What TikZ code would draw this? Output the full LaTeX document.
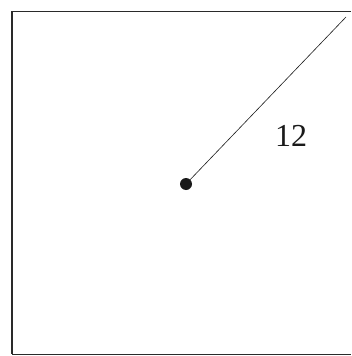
\documentclass[tikz,border=0pt]{standalone}
\usepackage{fontspec}
\setmainfont{Liberation Serif}
\usepackage{tikz}
\usepackage{xcolor}
\definecolor{Ink}{HTML}{1A1A1A}
\definecolor{Frame}{HTML}{2A2A2A}
\tikzset{
  frame/.style={draw=Frame,line width=0.8pt},
  radius/.style={draw=Ink,line width=0.6pt},
  centre/.style={circle,fill=Ink,inner sep=0pt,minimum size=12pt},
  measure/.style={font=\fontsize{32}{36}\selectfont,text=Ink,inner sep=0pt}
}

\begin{document}
\begin{tikzpicture}[x=1pt,y=-1pt]
      \useasboundingbox (0,0) rectangle (351,356);
      \draw[frame] (351,11) -- (12,11) -- (12,354) -- (351,354);
      \draw[frame,line width=1.4pt] (12,11) -- (12,354);
      \node[centre] (dot) at (186,184) {};
      \coordinate (corner) at (346,17);
      \draw[radius] (dot.center) -- (corner);
      \node[measure] (len) at (291,136) {12};
    \end{tikzpicture}
\end{document}
